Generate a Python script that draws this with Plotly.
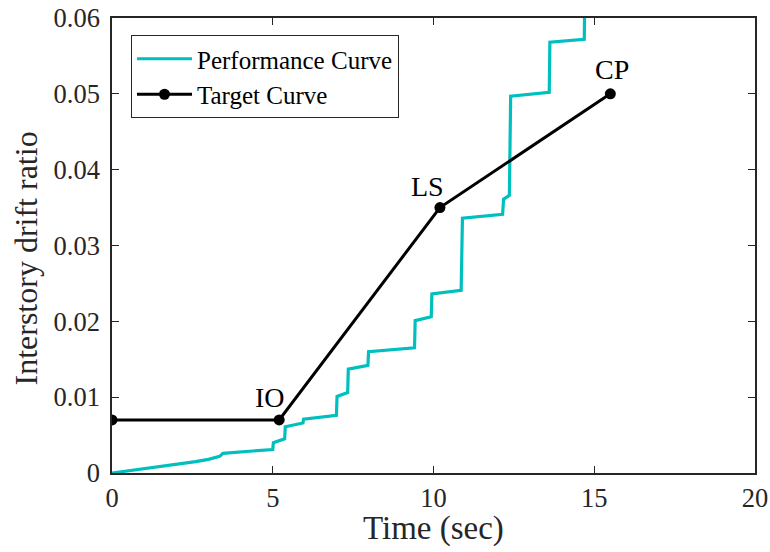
import plotly.graph_objects as go

# Performance curve
perf_time = [0, 0.9, 1.7, 2.6, 3.0, 3.35, 3.45, 5.0, 5.02, 5.37, 5.39, 5.94, 5.96,
             6.98, 7.0, 7.33, 7.35, 7.96, 7.98, 9.41, 9.43, 9.93, 9.95, 10.86, 10.9,
             12.15, 12.18, 12.36, 12.40, 13.60, 13.62, 14.69, 14.71]
perf_drift = [0, 0.0005, 0.0010, 0.0015, 0.0018, 0.0022, 0.0026, 0.0031, 0.0040, 0.0045,
              0.0061, 0.0066, 0.0071, 0.0076, 0.0101, 0.0106, 0.0137, 0.0142, 0.0160,
              0.0165, 0.0201, 0.0206, 0.0236, 0.0241, 0.0336, 0.0341, 0.0361, 0.0366,
              0.0497, 0.0502, 0.0568, 0.0572, 0.065]

# Target curve
target_time = [0, 5.2, 10.2, 15.5]
target_drift = [0.007, 0.007, 0.035, 0.05]
target_labels = ["", "IO", "LS", "CP"]
label_shift_x = [0, -9, -12, 2]
label_shift_y = [0, 22, 21, 24]

y_ticks = [0, 0.01, 0.02, 0.03, 0.04, 0.05, 0.06]
y_tick_text = ["0", "0.01", "0.02", "0.03", "0.04", "0.05", "0.06"]
x_ticks = [0, 5, 10, 15, 20]

font_family = "Liberation Serif"
axis_color = "#262626"

fig = go.Figure()
fig.add_trace(go.Scatter(x=perf_time, y=perf_drift, mode="lines",
                         line=dict(color="#00BFBF", width=3.2),
                         name="Performance Curve"))
fig.add_trace(go.Scatter(x=target_time, y=target_drift, mode="lines+markers",
                         line=dict(color="black", width=3),
                         marker=dict(color="black", size=11),
                         name="Target Curve"))

for t, d, lab, sx, sy in zip(target_time, target_drift, target_labels, label_shift_x, label_shift_y):
    if lab:
        fig.add_annotation(x=t, y=d, text=lab, showarrow=False, xshift=sx, yshift=sy,
                           xanchor="center", yanchor="middle",
                           font=dict(family=font_family, size=28, color="black"))

# axis titles
fig.add_annotation(xref="paper", yref="paper", x=0.5, y=0, yshift=-55,
                   xanchor="center", yanchor="middle", showarrow=False,
                   text="Time (sec)", font=dict(family=font_family, size=33, color=axis_color))
fig.add_annotation(xref="paper", yref="paper", x=0, y=0.5, xshift=-87, yshift=-13,
                   xanchor="center", yanchor="middle", showarrow=False, textangle=-90,
                   text="Interstory drift ratio", font=dict(family=font_family, size=32, color=axis_color))

axis_common = dict(showgrid=False, zeroline=False, showline=True, linecolor=axis_color,
                   linewidth=1.6, mirror="ticks", ticks="inside", ticklen=7,
                   tickcolor=axis_color, tickwidth=1.2, automargin=False,
                   tickfont=dict(family=font_family, size=26.5, color=axis_color))

fig.update_layout(
    width=770, height=552,
    paper_bgcolor="white", plot_bgcolor="white",
    margin=dict(l=112, r=15, t=18, b=79),
    showlegend=True,
    legend=dict(x=(131 - 112) / 643, y=(473 - 35) / 455, xanchor="left", yanchor="top",
                bgcolor="white", bordercolor=axis_color, borderwidth=1,
                font=dict(family=font_family, size=25, color="black"),
                tracegroupgap=0, itemwidth=55),
    xaxis=dict(range=[0, 20], tickvals=x_ticks, ticklabelstandoff=0, **axis_common),
    yaxis=dict(range=[0, 0.06], tickvals=y_ticks, ticktext=y_tick_text,
               ticklabelstandoff=5, **axis_common),
)

fig.write_html("out.html", config={"displayModeBar": False},
               post_script="document.body.style.margin='0px';")
